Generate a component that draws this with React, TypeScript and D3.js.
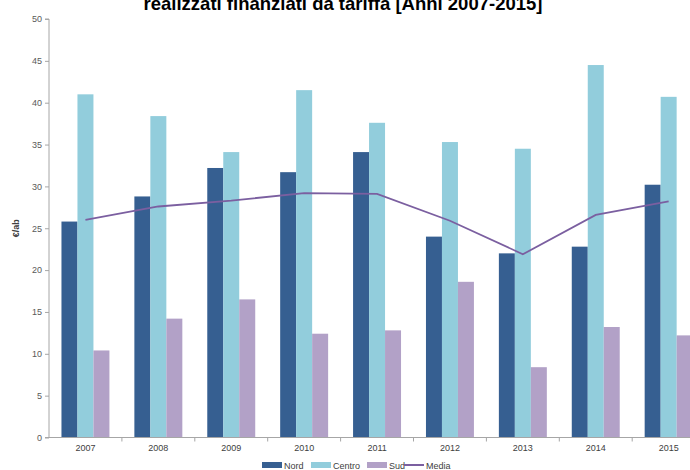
import * as d3 from "d3"
import { useRef, useEffect } from "react"

const years = ["2007", "2008", "2009", "2010", "2011", "2012", "2013", "2014", "2015"]
const nord = [25.8, 28.8, 32.2, 31.7, 34.1, 24.0, 22.0, 22.8, 30.2]
const centro = [41.0, 38.4, 34.1, 41.5, 37.6, 35.3, 34.5, 44.5, 40.7]
const sud = [10.4, 14.2, 16.5, 12.4, 12.8, 18.6, 8.4, 13.2, 12.2]
const media = [26.0, 27.6, 28.3, 29.2, 29.1, 25.9, 21.9, 26.6, 28.2]
const yTicks = [0, 5, 10, 15, 20, 25, 30, 35, 40, 45, 50]

const seriesNames = ["Nord", "Centro", "Sud"]
const seriesValues = [nord, centro, sud]
const colors = ["#365f91", "#92cddc", "#b2a1c7"]
const lineColor = "#7b5fa0"

export default function App() {
  const svgRef = useRef<SVGSVGElement>(null)

  useEffect(() => {
    if (!svgRef.current) return
    const width = 690
    const height = 470
    const svg = d3.select(svgRef.current)
    svg.selectAll("*").remove()
    svg.attr("width", width).attr("height", height)

    const left = 49
    const bandW = 72.9
    const x = d3
      .scaleBand()
      .domain(years)
      .range([left, left + bandW * years.length])
    const y = d3.scaleLinear().domain([0, 50]).range([437.5, 19])
    const inner = d3
      .scaleBand()
      .domain(seriesNames)
      .range([0, x.bandwidth()])
      .paddingOuter(0.78)
      .paddingInner(0)

    const font = "'Liberation Sans', Arial, sans-serif"

    // title (partly cut off at the top)
    svg
      .append("text")
      .attr("x", 343)
      .attr("y", 10)
      .attr("text-anchor", "middle")
      .style("font-family", font)
      .style("font-size", "18.5px")
      .style("font-weight", "700")
      .attr("fill", "#000")
      .text("realizzati finanziati da tariffa [Anni 2007-2015]")

    // bars
    seriesNames.forEach((name, si) => {
      svg
        .append("g")
        .selectAll("rect")
        .data(seriesValues[si])
        .enter()
        .append("rect")
        .attr("x", (_, i) => (x(years[i]) as number) + (inner(name) as number))
        .attr("y", (d) => y(d))
        .attr("width", inner.bandwidth())
        .attr("height", (d) => y(0) - y(d))
        .attr("fill", colors[si])
    })

    // media line
    const line = d3
      .line<number>()
      .x((_, i) => (x(years[i]) as number) + x.bandwidth() / 2)
      .y((d) => y(d))
    svg
      .append("path")
      .datum(media)
      .attr("d", line)
      .attr("fill", "none")
      .attr("stroke", lineColor)
      .attr("stroke-width", 1.8)

    // y axis
    const yAxis = svg
      .append("g")
      .attr("transform", `translate(${left},0)`)
      .call(
        d3
          .axisLeft(y)
          .tickValues(yTicks)
          .tickSize(4)
          .tickPadding(3)
          .tickFormat((d) => String(d))
      )
    yAxis.selectAll("path,line").attr("stroke", "#a6a6a6")
    yAxis.select(".domain").attr("d", `M-4,${y(50)}H0V${y(0)}`)
    yAxis
      .selectAll("text")
      .attr("fill", "#595959")
      .style("font-family", font)
      .style("font-size", "9px")

    // x axis
    const xAxis = svg
      .append("g")
      .attr("transform", `translate(0,${y(0)})`)
      .call(d3.axisBottom(x).tickSize(0).tickPadding(7))
    xAxis.select(".domain").attr("stroke", "#a6a6a6").attr("d", `M${left - 4},0H${width}`)
    xAxis
      .selectAll("text")
      .attr("fill", "#404040")
      .style("font-family", font)
      .style("font-size", "9px")
    svg
      .append("g")
      .selectAll("line")
      .data(years)
      .enter()
      .append("line")
      .attr("x1", (d) => (x(d) as number) + x.bandwidth())
      .attr("x2", (d) => (x(d) as number) + x.bandwidth())
      .attr("y1", y(0))
      .attr("y2", y(0) + 4)
      .attr("stroke", "#a6a6a6")

    // y axis title
    svg
      .append("text")
      .attr("transform", `translate(19,${y(25)}) rotate(-90)`)
      .attr("text-anchor", "middle")
      .style("font-family", font)
      .style("font-size", "9px")
      .style("font-weight", "700")
      .attr("fill", "#404040")
      .text("€/ab")

    // legend
    const legendItems = [
      { name: "Nord", x: 262, type: "rect", color: colors[0] },
      { name: "Centro", x: 311, type: "rect", color: colors[1] },
      { name: "Sud", x: 367, type: "rect", color: colors[2] },
      { name: "Media", x: 404, type: "line", color: lineColor },
    ]
    const ly = 465
    const lg = svg.append("g")
    legendItems.forEach((it) => {
      if (it.type === "rect") {
        lg.append("rect")
          .attr("x", it.x)
          .attr("y", ly - 3)
          .attr("width", 20)
          .attr("height", 6)
          .attr("fill", it.color)
      } else {
        lg.append("line")
          .attr("x1", it.x)
          .attr("x2", it.x + 20)
          .attr("y1", ly)
          .attr("y2", ly)
          .attr("stroke", it.color)
          .attr("stroke-width", 2)
      }
      lg.append("text")
        .attr("x", it.x + 22)
        .attr("y", ly + 3.5)
        .style("font-family", font)
        .style("font-size", "9px")
        .attr("fill", "#404040")
        .text(it.name)
    })
  }, [])

  return (
    <div style={{ position: "absolute", left: 0, top: 0, width: 690, height: 470, background: "#fff" }}>
      <svg ref={svgRef} style={{ display: "block" }}></svg>
    </div>
  )
}
